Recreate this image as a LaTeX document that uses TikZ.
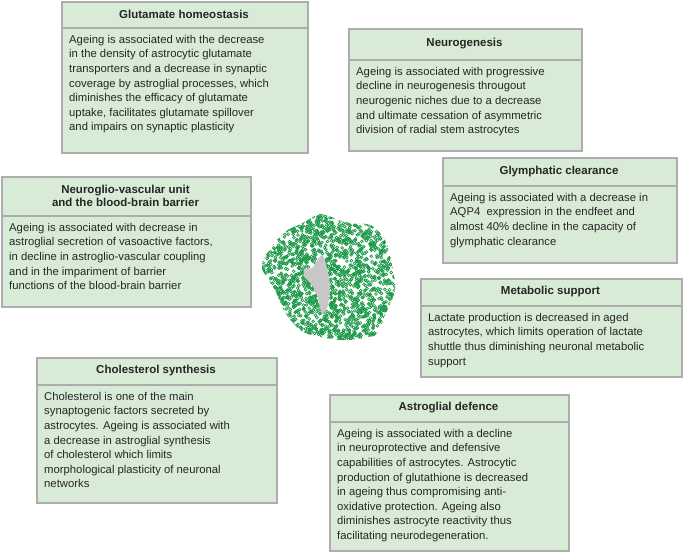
\documentclass[tikz,border=0pt]{standalone}
\usepackage{fontspec}
\setmainfont{Liberation Sans}
\begin{document}
\begin{tikzpicture}[x=1pt,y=-1pt,
  box/.style={draw=black!32,line width=1.6pt,fill=green!10!black!2!white,fill=boxg,inner sep=0pt,anchor=north west},
  divline/.style={draw=black!32,line width=1.6pt},
  ttl/.style={font=\fontsize{11.5}{13.5}\selectfont\bfseries,text=black!85,align=center,inner sep=0pt},
  txt/.style={font=\fontsize{11.3}{14.6}\selectfont,text=black!85,align=left,inner sep=0pt,anchor=north west}]
\definecolor{boxg}{HTML}{D8EBD6}
\definecolor{astro}{HTML}{1E9A4A}
\useasboundingbox (0,0) rectangle (685,553);
\newcommand\infobox[8]{%
  \node[box,minimum width={#4-#2},minimum height={#5-#3}] (#1) at (#2,#3) {};
  \draw[divline] (#2,#6) -- (#4,#6);
  \node[ttl] (#1t) at ({(#2+#4)/2},{(#3+#6)/2}) {#7};
  \node[txt] (#1x) at ({#2+8},{#6+7}) {#8};}
\infobox{glu}{61}{1}{307}{152}{28}{Glutamate homeostasis}{Ageing is associated with the decrease\\in the density of astrocytic glutamate\\transporters and a decrease in synaptic\\coverage by astroglial processes, which\\diminishes the efficacy of glutamate\\uptake, facilitates glutamate spillover\\and impairs on synaptic plasticity}
\infobox{neu}{348}{28}{581}{150}{60}{Neurogenesis}{Ageing is associated with progressive\\decline in neurogenesis througout\\neurogenic niches due to a decrease\\and ultimate cessation of asymmetric\\division of radial stem astrocytes}
\infobox{gly}{442}{157}{676}{262}{186}{Glymphatic clearance}{Ageing is associated with a decrease in\\AQP4\ \ expression in the endfeet and\\almost 40\% decline in the capacity of\\glymphatic clearance}
\infobox{nvu}{1}{176}{250}{306}{216}{Neuroglio-vascular unit\\and the blood-brain barrier}{Ageing is associated with decrease in\\astroglial secretion of vasoactive factors,\\in decline in astroglio-vascular coupling\\and in the impariment of barrier\\functions of the blood-brain barrier}
\infobox{met}{420}{278}{681}{376}{306}{Metabolic support}{Lactate production is decreased in aged\\astrocytes, which limits operation of lactate\\shuttle thus diminishing neuronal metabolic\\support}
\infobox{cho}{36}{357}{276}{502}{385}{Cholesterol synthesis}{Cholesterol is one of the main\\synaptogenic factors secreted by\\astrocytes. Ageing is associated with\\a decrease in astroglial synthesis\\of cholesterol which limits\\morphological plasticity of neuronal\\networks}
\infobox{def}{329}{394}{568}{550}{422}{Astroglial defence}{Ageing is associated with a decline\\in neuroprotective and defensive\\capabilities of astrocytes. Astrocytic\\production of glutathione is decreased\\in ageing thus compromising anti-\\oxidative protection. Ageing also\\diminishes astrocyte reactivity thus\\facilitating neurodegeneration.}
% astrocyte
\begin{scope}
\clip plot[smooth cycle] coordinates {(268,252)(285,232)(305,222)(320,214)(345,222)(370,225)(385,240)(392,265)(395,290)(385,315)(375,335)(345,340)(320,337)(300,330)(285,312)(275,290)(262,268)};
\pgfmathsetseed{7}
\foreach \i in {1,...,2200}{
  \pgfmathsetmacro\px{260+136*rnd}\pgfmathsetmacro\py{212+130*rnd}
  \draw[astro,line width=0.7pt] (\px,\py) circle[radius=1.4];}
\end{scope}
\fill[black!22] plot[smooth cycle] coordinates {(305,268)(312,268)(322,255)(327,268)(330,285)(328,305)(322,314)(318,298)(312,285)(304,276)};
\end{tikzpicture}
\end{document}
